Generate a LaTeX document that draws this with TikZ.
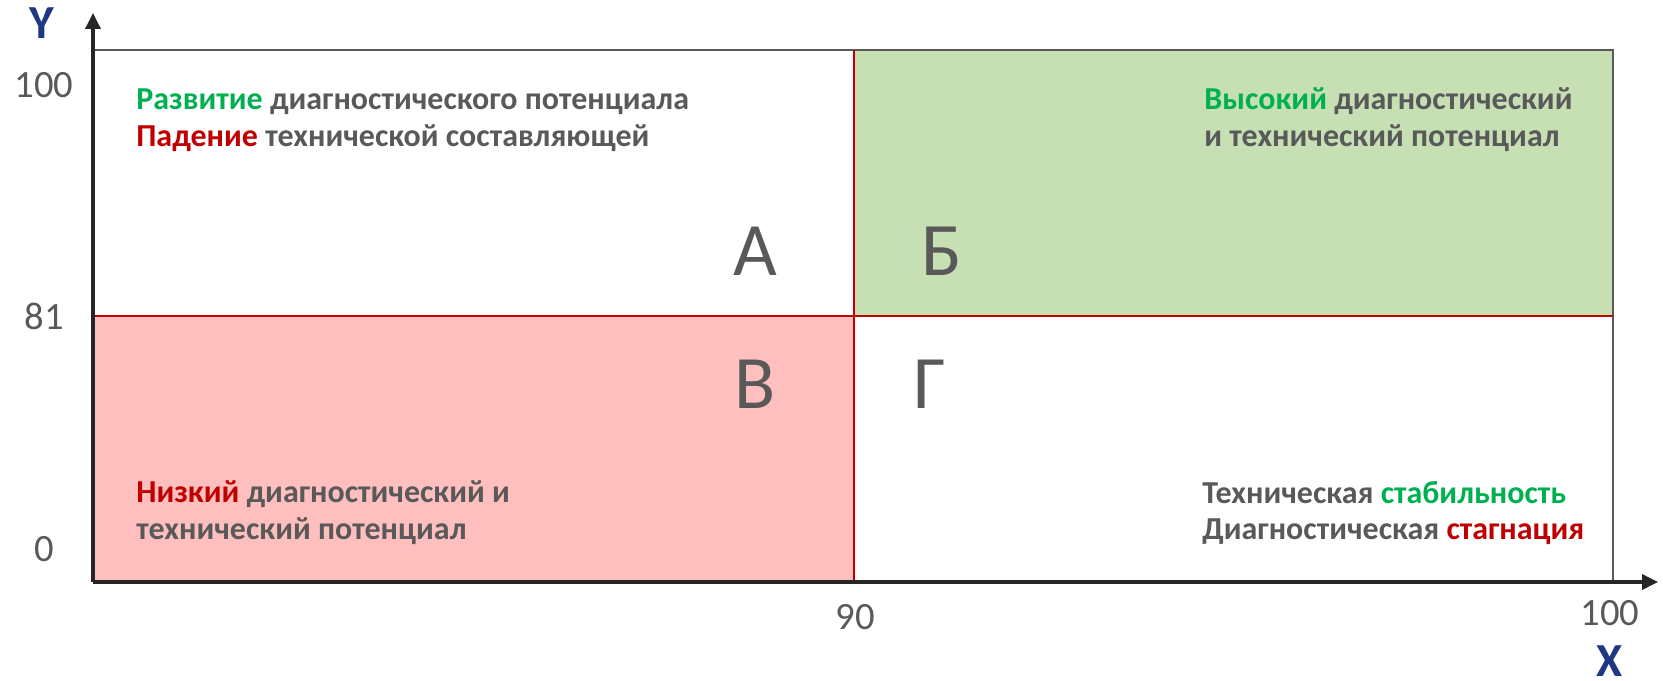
\documentclass[tikz,border=0pt]{standalone}
\usepackage{fontspec}
\setmainfont{Carlito}
\usetikzlibrary{arrows.meta, positioning}
\definecolor{txtgray}   {RGB}{89,  89,  89}
\definecolor{qgreen}    {RGB}{0,  176,  80}
\definecolor{qred}      {RGB}{192,  0,   0}
\definecolor{fillgreen} {RGB}{198,224, 180}
\definecolor{fillpink}  {RGB}{255,191, 191}
\definecolor{axisblue}  {RGB}{31,  56, 130}
\definecolor{axisdark}  {RGB}{38,  38,  38}

\tikzset{
	quadtext/.style={anchor=west, inner sep=0pt, align=left, text=txtgray,
		font=\fontsize{18.2}{21}\selectfont\bfseries},
	quadletter/.style={inner sep=0pt, text=txtgray, font=\fontsize{43}{43}\selectfont},
	ticklabel/.style={inner sep=0pt, text=txtgray, font=\fontsize{22}{22}\selectfont},
	axislabel/.style={inner sep=0pt, text=axisblue, font=\fontsize{27}{27}\selectfont\bfseries},
	axisline/.style={axisdark, line width=1.8pt, -{Triangle[length=9pt,width=8.5pt]}}
}

\begin{document}
\begin{tikzpicture}[x=0.02cm,y=-0.02cm]
				\useasboundingbox (0,0) rectangle (1663,680);
				\coordinate (O) at (93,582);
				\coordinate (M) at (854,316);
				\coordinate (TR) at (1613,50);
				\coordinate (xend) at (1658,582);
				\coordinate (yend) at (93,13);
				% quadrants
				\fill[fillgreen] (M) rectangle (TR);
				\fill[fillpink] (O) rectangle (M);
				\draw[txtgray,line width=1.1pt] (O |- TR) -- (TR) -- (TR |- O);
				\draw[qred,line width=1.5pt] (M |- TR) -- (M |- O);
				\draw[qred,line width=1.5pt] (O |- M) -- (TR |- M);
				% axes
				\draw[axisline] (O) -- (xend);
				\draw[axisline] (O) -- (yend);
				\node[axislabel] (ylab) at (42,23) {Y};
				\node[axislabel] (xlab) at (1610,661) {X};
				\node[ticklabel] (y100) at (44,85) {100};
				\node[ticklabel] (y81) at (44,316) {81};
				\node[ticklabel] (y0) at (44,549) {0};
				\node[ticklabel] (x90) at (855,617) {90};
				\node[ticklabel] (x100) at (1610,613) {100};
				% letters
				\node[quadletter] (qa) at (755,251) {А};
				\node[quadletter] (qb) at (942,251) {Б};
				\node[quadletter] (qv) at (755,384) {В};
				\node[quadletter] (qg) at (930,384) {Г};
				% texts
				\node[quadtext] (ta) at (136,120) {\textcolor{qgreen}{Развитие} диагностического потенциала\\\textcolor{qred}{Падение} технической составляющей};
				\node[quadtext] (tb) at (1204,120) {\textcolor{qgreen}{Высокий} диагностический\\и технический потенциал};
				\node[quadtext] (tv) at (136,513) {\textcolor{qred}{Низкий} диагностический и\\технический потенциал};
				\node[quadtext] (tg) at (1202,513) {Техническая \textcolor{qgreen}{стабильность}\\Диагностическая \textcolor{qred}{стагнация}};
			\end{tikzpicture}
\end{document}
